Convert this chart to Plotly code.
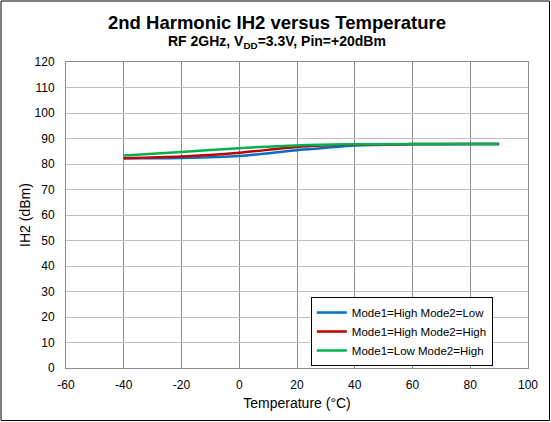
"""2nd Harmonic IH2 versus Temperature"""
import plotly.graph_objects as go

temperature = [-40, -20, 0, 20, 40, 60, 80, 90]
ih2_high_low = [82.3, 82.4, 83.1, 85.4, 87.3, 87.7, 87.8, 87.8]
ih2_high_high = [82.3, 82.9, 84.4, 86.7, 87.6, 87.8, 87.8, 87.8]
ih2_low_high = [83.3, 84.7, 86.2, 87.3, 87.7, 87.8, 87.8, 87.8]

series_names = ["Mode1=High Mode2=Low", "Mode1=High Mode2=High", "Mode1=Low Mode2=High"]
series_colors = ["#0070C0", "#C00000", "#00B050"]

x_ticks = [-60, -40, -20, 0, 20, 40, 60, 80, 100]
x_ticklabels = ["-60", "-40", "-20", "0", "20", "40", "60", "80", "100"]

FONT = "Arial, Liberation Sans, sans-serif"
TITLE_X = (277 - 66) / 462  # centred on the page, not the plot area

fig = go.Figure()

for name, values, color in zip(
    series_names, [ih2_high_low, ih2_high_high, ih2_low_high], series_colors
):
    fig.add_trace(
        go.Scatter(
            x=temperature,
            y=values,
            name=name,
            mode="lines",
            line=dict(color=color, width=2.5, shape="spline", smoothing=0.8),
        )
    )

fig.update_layout(
    width=551,
    height=422,
    margin=dict(l=66, r=23, t=62, b=54),
    paper_bgcolor="white",
    plot_bgcolor="white",
    font=dict(family=FONT, size=12, color="black"),
    showlegend=True,
    legend=dict(
        x=0.53,
        y=0.232,
        xanchor="left",
        yanchor="top",
        bgcolor="white",
        bordercolor="black",
        borderwidth=1,
        font=dict(size=11.5),
        tracegroupgap=0,
        itemwidth=30,
    ),
    annotations=[
        dict(
            text="<b>2nd Harmonic IH2 versus Temperature</b>",
            xref="paper",
            yref="paper",
            x=TITLE_X,
            y=(368 - 22) / 306,
            xanchor="center",
            yanchor="middle",
            showarrow=False,
            font=dict(size=18.5, family=FONT),
        ),
        dict(
            text="<b>RF 2GHz, V<sub>DD</sub>=3.3V, Pin=+20dBm</b>",
            xref="paper",
            yref="paper",
            x=TITLE_X,
            y=(368 - 42) / 306,
            xanchor="center",
            yanchor="middle",
            showarrow=False,
            font=dict(size=14, family=FONT),
        ),
    ],
    shapes=[
        dict(
            type="rect",
            xref="paper",
            yref="paper",
            x0=(1 - 66) / 462,
            x1=(549.5 - 66) / 462,
            y0=(368 - 420.5) / 306,
            y1=(368 - 1) / 306,
            line=dict(color="black", width=1),
            layer="below",
        )
    ],
)

fig.update_xaxes(
    range=[-60, 100],
    tickvals=x_ticks,
    ticktext=x_ticklabels,
    showgrid=True,
    gridcolor="#8c8c8c",
    gridwidth=1,
    zeroline=False,
    showline=True,
    linecolor="#8c8c8c",
    mirror=True,
    ticks="",
    ticklabelstandoff=6,
    tickfont=dict(size=12),
    title=dict(text="Temperature (°C)", font=dict(size=14), standoff=6),
)
fig.update_yaxes(
    range=[0, 120],
    dtick=10,
    showgrid=True,
    gridcolor="#bfbfbf",
    gridwidth=1,
    zeroline=False,
    showline=True,
    linecolor="#8c8c8c",
    mirror=True,
    ticks="",
    ticklabelstandoff=8,
    tickfont=dict(size=12),
    title=dict(text="IH2 (dBm)", font=dict(size=14), standoff=0),
)

fig.write_html(
    "out.html",
    config={"displayModeBar": False},
    post_script="document.body.style.margin='0';",
)
